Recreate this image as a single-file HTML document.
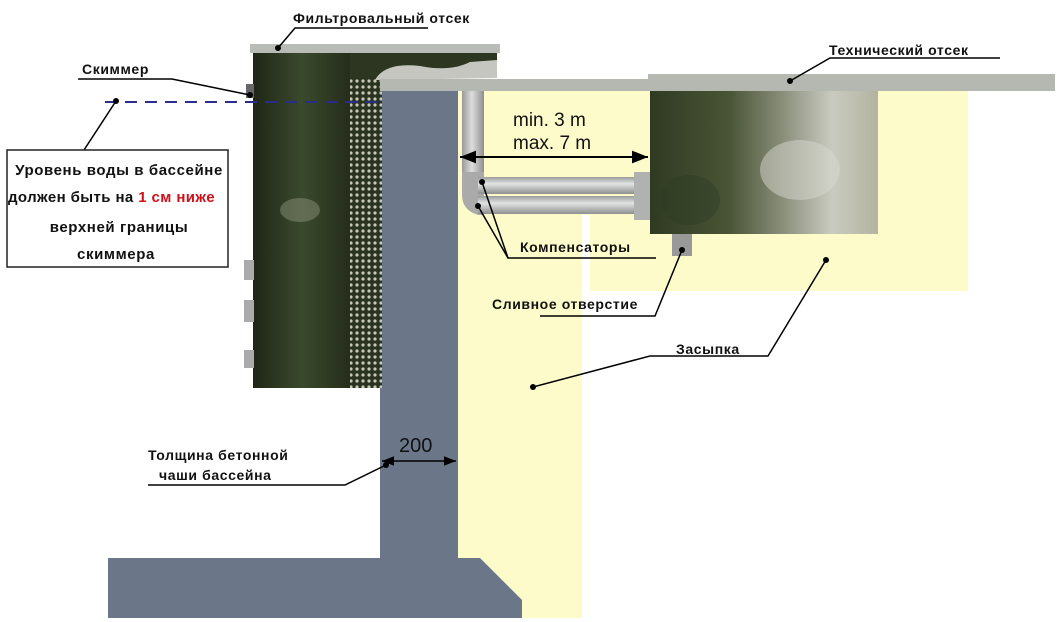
<!DOCTYPE html>
<html><head><meta charset="utf-8"><style>
body{margin:0;background:#fff}
svg{display:block}
text{font-family:"Liberation Sans","DejaVu Sans",sans-serif;font-weight:bold;font-size:15px;letter-spacing:0.6px;fill:#111}
</style></head><body>
<svg width="1057" height="622" viewBox="0 0 1057 622" xmlns="http://www.w3.org/2000/svg">
<defs>
<linearGradient id="tb" x1="0" x2="1" y1="0" y2="0">
<stop offset="0" stop-color="#2f3a22"/><stop offset="0.35" stop-color="#4a5536"/><stop offset="0.6" stop-color="#8f9380"/><stop offset="0.8" stop-color="#c9cbc0"/><stop offset="1" stop-color="#b4b3a0"/></linearGradient>
<linearGradient id="fb" x1="0" x2="1"><stop offset="0" stop-color="#1f2616"/><stop offset="0.5" stop-color="#3a4a2c"/><stop offset="1" stop-color="#252d1b"/></linearGradient>
<linearGradient id="pp" x1="0" x2="0" y1="0" y2="1"><stop offset="0" stop-color="#9a9c9c"/><stop offset="0.4" stop-color="#e2e3e3"/><stop offset="1" stop-color="#8d8f8f"/></linearGradient>
<linearGradient id="pv" x1="0" x2="1"><stop offset="0" stop-color="#999"/><stop offset="0.45" stop-color="#ddd"/><stop offset="1" stop-color="#8f8f8f"/></linearGradient>
<pattern id="perf" width="6" height="6" patternUnits="userSpaceOnUse"><rect width="6" height="6" fill="#2a3320"/><circle cx="3" cy="3" r="1.6" fill="#c8c8b8"/></pattern>
<marker id="ar" viewBox="0 0 10 10" refX="10" refY="5" markerWidth="8" markerHeight="8" orient="auto-start-reverse"><path d="M0,1 L10,5 L0,9 z" fill="#000"/></marker>
</defs>
<!-- yellow backfill -->
<rect x="458" y="88" width="124" height="530" fill="#fdfbc9"/>
<rect x="590" y="88" width="378" height="203" fill="#fdfbc9"/>
<rect x="582" y="88" width="8" height="127" fill="#fdfbc9"/>
<!-- concrete -->
<path d="M380,80 L458,80 L458,558 L480,558 L522,600 L522,618 L108,618 L108,558 L380,558 Z" fill="#6b7789"/>
<!-- filter box -->
<rect x="253" y="52" width="97" height="336" fill="url(#fb)"/>
<rect x="350" y="52" width="147" height="26" fill="#2c3620"/>
<rect x="350" y="78" width="32" height="310" fill="url(#perf)"/>
<ellipse cx="300" cy="210" rx="20" ry="12" fill="#8a8f7a" opacity="0.5"/>
<path d="M375,80 Q385,62 420,66 Q450,72 470,62 L497,60 L497,78 L382,80 Z" fill="#c4c6bf"/>
<rect x="250" y="44" width="250" height="9" fill="#b9bcb6"/>
<rect x="244" y="260" width="10" height="20" fill="#aaa"/>
<rect x="244" y="300" width="10" height="22" fill="#aaa"/>
<rect x="244" y="350" width="10" height="18" fill="#aaa"/>
<rect x="246" y="84" width="8" height="14" fill="#666"/>
<!-- slab -->
<rect x="380" y="79" width="675" height="12" fill="#b5b8b1"/>
<rect x="648" y="74" width="407" height="17" fill="#b5b8b1"/>
<!-- tech box -->
<rect x="650" y="91" width="228" height="143" fill="url(#tb)"/>
<ellipse cx="800" cy="170" rx="40" ry="30" fill="#d8d8d0" opacity="0.5"/>
<ellipse cx="690" cy="200" rx="30" ry="25" fill="#2d3a22" opacity="0.4"/>
<!-- pipes -->
<rect x="462" y="91" width="22" height="85" fill="url(#pv)"/>
<path d="M462,172 L484,172 L484,215 L478,215 Q462,210 462,195 Z" fill="#aaa"/>
<rect x="478" y="177" width="158" height="17" fill="url(#pp)"/>
<rect x="478" y="196" width="158" height="18" fill="url(#pp)"/>
<rect x="634" y="172" width="16" height="48" fill="#b0b2b2"/>
<rect x="672" y="234" width="20" height="22" fill="#999"/>
<!-- water line -->
<line x1="105" y1="102" x2="380" y2="102" stroke="#2b2d8a" stroke-width="2" stroke-dasharray="12,8"/>
<!-- dimension arrows -->
<line x1="460" y1="157" x2="648" y2="157" stroke="#000" stroke-width="2" marker-start="url(#ar)" marker-end="url(#ar)"/>
<line x1="382" y1="461" x2="456" y2="461" stroke="#000" stroke-width="1.5" marker-start="url(#ar)" marker-end="url(#ar)"/>
<text x="399" y="452" style="font-weight:normal;font-size:20px;letter-spacing:0">200</text>
<text x="513" y="126" style="font-weight:normal;font-size:19px;letter-spacing:0">min. 3 m</text>
<text x="513" y="149" style="font-weight:normal;font-size:19px;letter-spacing:0">max. 7 m</text>
<!-- leaders -->
<g stroke="#000" stroke-width="1.5" fill="none">
<polyline points="278,48 295,28 428,28"/>
<polyline points="78,79 172,79 250,95"/>
<polyline points="116,101 84,150"/>
<polyline points="790,81 830,58 1000,58"/>
<polyline points="482,182 508,258 656,258"/>
<polyline points="478,206 508,258"/>
<polyline points="682,250 655,316 540,316"/>
<polyline points="826,260 768,356 650,356 533,387"/>
<polyline points="386,465 345,485 148,485"/>
</g>
<g fill="#000">
<circle cx="278" cy="48" r="3"/><circle cx="250" cy="95" r="3"/><circle cx="116" cy="101" r="3"/>
<circle cx="790" cy="81" r="3"/><circle cx="482" cy="182" r="3"/><circle cx="478" cy="206" r="3"/>
<circle cx="682" cy="250" r="3"/><circle cx="826" cy="260" r="3"/><circle cx="533" cy="387" r="3"/><circle cx="386" cy="465" r="3"/>
</g>
<!-- callout box -->
<rect x="7" y="150" width="221" height="117" fill="#fff" stroke="#222" stroke-width="1.5"/>
<text x="119" y="175" text-anchor="middle">Уровень воды в бассейне</text>
<text x="8" y="202" style="letter-spacing:0.4px">должен быть на <tspan fill="#d0101a">1 см ниже</tspan></text>
<text x="119" y="232" text-anchor="middle">верхней границы</text>
<text x="116" y="259" text-anchor="middle">скиммера</text>
<!-- labels -->
<text x="293" y="23" style="font-size:14px">Фильтровальный отсек</text>
<text x="82" y="74" style="font-size:14px">Скиммер</text>
<text x="829" y="55" style="font-size:14px">Технический отсек</text>
<text x="520" y="252" style="font-size:14px">Компенсаторы</text>
<text x="492" y="309" style="font-size:14px">Сливное отверстие</text>
<text x="676" y="354" style="font-size:14px">Засыпка</text>
<text x="148" y="460" style="font-size:14px">Толщина бетонной</text>
<text x="159" y="480" style="font-size:14px">чаши бассейна</text>
</svg>
</body></html>
